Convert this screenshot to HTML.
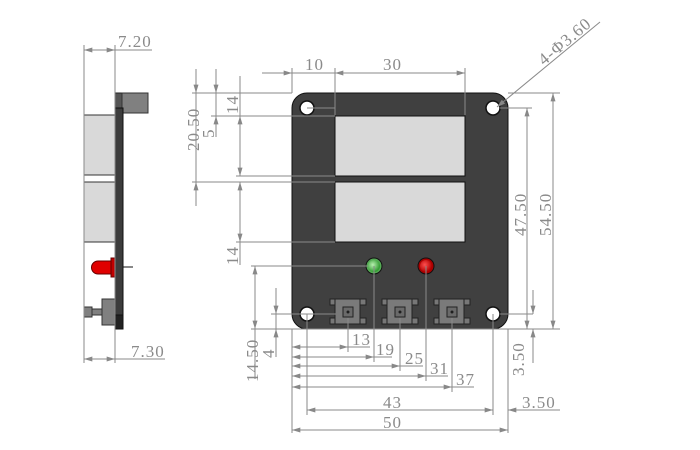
<!DOCTYPE html>
<html><head><meta charset="utf-8"><style>
html,body{margin:0;padding:0;background:#fff;width:700px;height:450px;overflow:hidden}
text{font-family:"Liberation Serif",serif;font-size:17px;fill:#8a8a8a;letter-spacing:1px}
</style></head><body>
<svg width="700" height="450" viewBox="0 0 700 450" xmlns="http://www.w3.org/2000/svg">
<defs>
<marker id="a" viewBox="0 0 10 6" refX="10" refY="3" markerWidth="10" markerHeight="5" orient="auto-start-reverse" markerUnits="userSpaceOnUse"><path d="M0,0L10,3L0,6z" fill="#888"/></marker>
<radialGradient id="g" cx="0.4" cy="0.4" r="0.6"><stop offset="0" stop-color="#b8f0b0"/><stop offset="1" stop-color="#2f9a2f"/></radialGradient>
<radialGradient id="r" cx="0.4" cy="0.4" r="0.6"><stop offset="0" stop-color="#ff5050"/><stop offset="1" stop-color="#b00000"/></radialGradient>
</defs>
<!-- side view -->
<rect x="115" y="93" width="7" height="15" fill="#555" stroke="#222"/>
<rect x="122" y="93" width="26" height="20" fill="#808080" stroke="#333"/>
<rect x="115" y="108" width="8" height="221" fill="#3c3c3c" stroke="#111"/>
<rect x="115" y="315" width="8" height="14" fill="#222" stroke="#111"/>
<rect x="84" y="115" width="31" height="60" fill="#d9d9d9" stroke="#333"/>
<rect x="84" y="182" width="31" height="60" fill="#d9d9d9" stroke="#333"/>
<path d="M98,261 H111 V274 H98 A6.5,6.5 0 0 1 98,261 Z" fill="#e00000" stroke="#600"/>
<rect x="111" y="258" width="4" height="19" fill="#c00000" stroke="#600"/>
<line x1="123" y1="267" x2="133" y2="267" stroke="#111"/>
<rect x="84" y="307" width="8" height="10" fill="#808080" stroke="#333"/>
<rect x="92" y="309" width="10" height="6" fill="#808080" stroke="#333"/>
<rect x="102" y="299" width="13" height="26" fill="#808080" stroke="#333"/>
<!-- board -->
<rect x="292" y="93" width="216" height="236" rx="15" fill="#404040" stroke="#111"/>
<g fill="#fff" stroke="#111" stroke-width="1.5">
<circle cx="307" cy="108" r="7"/><circle cx="493" cy="108" r="7"/>
<circle cx="307" cy="314" r="7"/><circle cx="493" cy="314" r="7"/>
</g>
<rect x="335" y="116" width="130" height="60" fill="#d9d9d9" stroke="#111"/>
<rect x="335" y="182" width="130" height="60" fill="#d9d9d9" stroke="#111"/>
<circle cx="374" cy="266" r="8" fill="#5a5" stroke="#111"/><circle cx="374" cy="266" r="6" fill="url(#g)"/>
<circle cx="426" cy="266" r="8" fill="#a00" stroke="#111"/><circle cx="426" cy="266" r="6" fill="url(#r)"/>
<g id="b" stroke="#222" stroke-width="1">
<rect x="330" y="299" width="36" height="6" fill="#777"/>
<rect x="330" y="318" width="36" height="6" fill="#777"/>
<rect x="335" y="299" width="25" height="25" fill="#7a7a7a"/>
<rect x="343" y="307" width="10" height="10" fill="#6a6a6a"/>
<circle cx="348" cy="312" r="1" fill="#111"/>
</g>
<use href="#b" x="52"/><use href="#b" x="104"/>
<g stroke="#8a8a8a" stroke-width="1" fill="none">
<!-- side view dims -->
<line x1="84" y1="45" x2="84" y2="363"/><line x1="115" y1="45" x2="115" y2="363"/>
<line x1="84" y1="50" x2="152" y2="50"/><line x1="84" y1="359" x2="165" y2="359"/>
<line x1="84" y1="50" x2="100" y2="50" marker-start="url(#a)"/><line x1="99" y1="50" x2="115" y2="50" marker-end="url(#a)"/>
<line x1="84" y1="359" x2="100" y2="359" marker-start="url(#a)"/><line x1="99" y1="359" x2="115" y2="359" marker-end="url(#a)"/>
<!-- top dims -->
<line x1="262" y1="73" x2="465" y2="73"/>
<line x1="262" y1="73" x2="292" y2="73" marker-end="url(#a)"/>
<line x1="335" y1="73" x2="360" y2="73" marker-start="url(#a)"/>
<line x1="440" y1="73" x2="465" y2="73" marker-end="url(#a)"/>
<line x1="292" y1="68" x2="292" y2="93"/><line x1="335" y1="68" x2="335" y2="115"/><line x1="465" y1="68" x2="465" y2="115"/>
<!-- left dims -->
<line x1="192" y1="93" x2="292" y2="93"/>
<line x1="211" y1="116" x2="335" y2="116"/>
<line x1="236" y1="176" x2="335" y2="176"/>
<line x1="192" y1="182" x2="335" y2="182"/>
<line x1="236" y1="242" x2="335" y2="242"/>
<line x1="196" y1="69" x2="196" y2="206"/>
<line x1="196" y1="69" x2="196" y2="93" marker-end="url(#a)"/>
<line x1="196" y1="206" x2="196" y2="182" marker-end="url(#a)"/>
<line x1="216" y1="69" x2="216" y2="137"/>
<line x1="216" y1="69" x2="216" y2="93" marker-end="url(#a)"/>
<line x1="216" y1="137" x2="216" y2="116" marker-end="url(#a)"/>
<line x1="240" y1="116" x2="240" y2="176" marker-start="url(#a)" marker-end="url(#a)"/>
<line x1="240" y1="182" x2="240" y2="242" marker-start="url(#a)" marker-end="url(#a)"/>
<line x1="240" y1="76" x2="240" y2="116"/><line x1="240" y1="242" x2="240" y2="265"/>
<!-- lower left -->
<line x1="251" y1="266" x2="368" y2="266"/>
<line x1="271" y1="314" x2="336" y2="314"/>
<line x1="251" y1="329" x2="560" y2="329"/>
<line x1="255" y1="266" x2="255" y2="379"/>
<line x1="255" y1="266" x2="255" y2="329" marker-start="url(#a)" marker-end="url(#a)"/>
<line x1="276" y1="288" x2="276" y2="357"/>
<line x1="276" y1="288" x2="276" y2="314" marker-end="url(#a)"/>
<line x1="276" y1="357" x2="276" y2="329" marker-end="url(#a)"/>
<!-- right dims -->
<line x1="500" y1="108" x2="532" y2="108"/>
<line x1="508" y1="93" x2="560" y2="93"/>
<line x1="500" y1="314" x2="533" y2="314"/>
<line x1="527" y1="108" x2="527" y2="329" marker-start="url(#a)" marker-end="url(#a)"/>
<line x1="553" y1="93" x2="553" y2="329" marker-start="url(#a)" marker-end="url(#a)"/>
<line x1="533" y1="290" x2="533" y2="314" marker-end="url(#a)"/>
<line x1="533" y1="363" x2="533" y2="329" marker-end="url(#a)"/>
<!-- leader -->
<line x1="600" y1="22" x2="497" y2="107" marker-end="url(#a)"/>
<line x1="307" y1="108" x2="335" y2="108"/>
<!-- bottom dims -->
<line x1="292" y1="329" x2="292" y2="433"/><line x1="508" y1="329" x2="508" y2="433"/>
<line x1="307" y1="314" x2="307" y2="415"/><line x1="493" y1="314" x2="493" y2="415"/>
<line x1="348" y1="318" x2="348" y2="352"/>
<line x1="374" y1="266" x2="374" y2="362"/>
<line x1="400" y1="318" x2="400" y2="371"/>
<line x1="426" y1="266" x2="426" y2="381"/>
<line x1="452" y1="318" x2="452" y2="392"/>
<line x1="292" y1="347" x2="348" y2="347" marker-start="url(#a)" marker-end="url(#a)"/><line x1="348" y1="347" x2="370" y2="347"/>
<line x1="292" y1="357" x2="374" y2="357" marker-start="url(#a)" marker-end="url(#a)"/><line x1="374" y1="357" x2="392" y2="357"/>
<line x1="292" y1="366" x2="400" y2="366" marker-start="url(#a)" marker-end="url(#a)"/><line x1="400" y1="366" x2="423" y2="366"/>
<line x1="292" y1="376" x2="426" y2="376" marker-start="url(#a)" marker-end="url(#a)"/><line x1="426" y1="376" x2="448" y2="376"/>
<line x1="292" y1="387" x2="452" y2="387" marker-start="url(#a)" marker-end="url(#a)"/><line x1="452" y1="387" x2="474" y2="387"/>
<line x1="307" y1="410" x2="493" y2="410" marker-start="url(#a)" marker-end="url(#a)"/>
<line x1="508" y1="410" x2="560" y2="410"/>
<line x1="530" y1="410" x2="508" y2="410" marker-end="url(#a)"/>
<line x1="292" y1="430" x2="508" y2="430" marker-start="url(#a)" marker-end="url(#a)"/>
</g>
<!-- texts -->
<text x="118" y="47">7.20</text>
<text x="131" y="357">7.30</text>
<text x="305" y="70">10</text>
<text x="383" y="70">30</text>
<text transform="translate(199,151) rotate(-90)">20.50</text>
<text transform="translate(214,138) rotate(-90)">5</text>
<text transform="translate(238,114) rotate(-90)">14</text>
<text transform="translate(238,265) rotate(-90)">14</text>
<text transform="translate(258,382) rotate(-90)">14.50</text>
<text transform="translate(274,358) rotate(-90)">4</text>
<text transform="translate(526,236) rotate(-90)">47.50</text>
<text transform="translate(551,236) rotate(-90)">54.50</text>
<text transform="translate(524,376) rotate(-90)">3.50</text>
<text transform="translate(544,66) rotate(-40)">4-Φ3.60</text>
<text x="352" y="345">13</text>
<text x="376" y="355">19</text>
<text x="405" y="364">25</text>
<text x="430" y="374">31</text>
<text x="456" y="385">37</text>
<text x="383" y="408">43</text>
<text x="383" y="428">50</text>
<text x="522" y="408">3.50</text>
</svg>
</body></html>
